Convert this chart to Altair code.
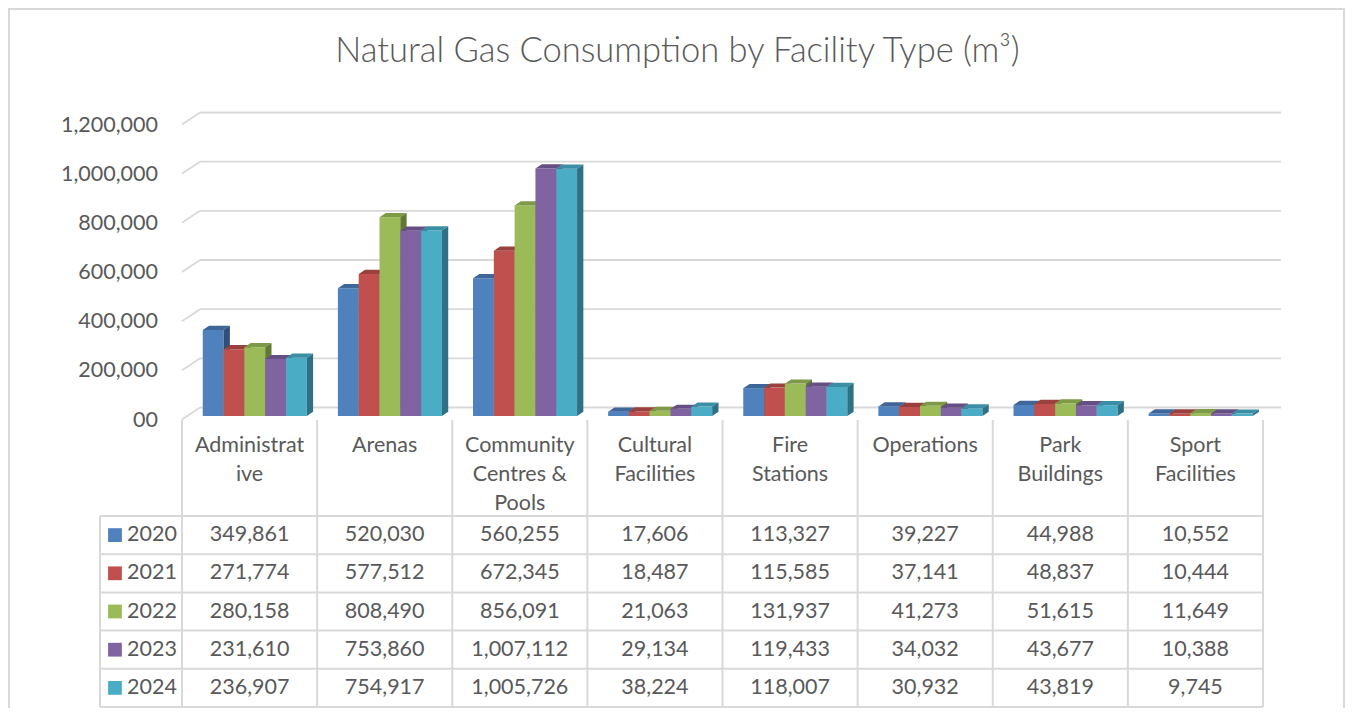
import altair as alt
import pandas as pd

# ---------------- data ----------------
categories = ["Administrative", "Arenas", "Community Centres & Pools", "Cultural Facilities",
              "Fire Stations", "Operations", "Park Buildings", "Sport Facilities"]
category_labels = ["Administrat\nive", "Arenas", "Community\nCentres &\nPools", "Cultural\nFacilities",
                   "Fire\nStations", "Operations", "Park\nBuildings", "Sport\nFacilities"]
years = ["2020", "2021", "2022", "2023", "2024"]
v2020 = [349861, 520030, 560255, 17606, 113327, 39227, 44988, 10552]
v2021 = [271774, 577512, 672345, 18487, 115585, 37141, 48837, 10444]
v2022 = [280158, 808490, 856091, 21063, 131937, 41273, 51615, 11649]
v2023 = [231610, 753860, 1007112, 29134, 119433, 34032, 43677, 10388]
v2024 = [236907, 754917, 1005726, 38224, 118007, 30932, 43819, 9745]
series_values = [v2020, v2021, v2022, v2023, v2024]
tick_values = [0, 200000, 400000, 600000, 800000, 1000000, 1200000]
tick_labels = ["00", "200,000", "400,000", "600,000", "800,000", "1,000,000", "1,200,000"]
title_text = "Natural Gas Consumption by Facility Type (m\u00b3)"

# ---------------- style / layout ----------------
front_colors = ["#4F81BD", "#C0504D", "#9BBB59", "#8064A2", "#4BACC6"]
top_colors = ["#3E6698", "#9A403D", "#7D9A46", "#664F84", "#3A8FA6"]
side_colors = ["#2F4F78", "#7E3331", "#627934", "#513F6A", "#2E7185"]
TEXT = "#595959"
GRID = "#D9D9D9"
FONT = "Lato"
FS = 21.5

W, H = 1337, 700
X_SCALE = alt.Scale(domain=[0, 8], range=[174, 1255], nice=False, zero=False)
Y_VAL = alt.Scale(domain=[0, 1200000], range=[411.5, 116.5], nice=False, zero=False)
Y_TAB = alt.Scale(domain=[0, 5], range=[508, 699], nice=False, zero=False)

DX = 0.1332      # floor depth in column units
DY = 48814       # floor depth in value units
F0, FD = 0.29, 0.35   # bar front depth fraction, bar depth fraction
GAP, BW = 0.115, 0.154
LEG_LEFT = -0.607

# ---------------- tables built from the arrays ----------------
bars, tops, sides = [], [], []
bx, by = F0 * DX, F0 * DY
ddx, ddy = FD * DX, FD * DY
for j, yr in enumerate(years):
    for i, cat in enumerate(categories):
        v = series_values[j][i]
        xl = i + GAP + BW * j + bx
        xr = xl + BW
        bid = f"{yr}-{i}"
        bars.append(dict(year=yr, id=bid, xl=xl, xr=xr, y0=by, y1=v + by))
        tops.append(dict(year=yr, id=bid, ty=v + by, ta=xl, tb=xr))
        tops.append(dict(year=yr, id=bid, ty=v + by + ddy, ta=xl + ddx, tb=xr + ddx))
        sides.append(dict(year=yr, id=bid, sx=xr, sa=by, sb=v + by))
        sides.append(dict(year=yr, id=bid, sx=xr + ddx, sa=by + ddy, sb=v + by + ddy))
bars_df, tops_df, sides_df = pd.DataFrame(bars), pd.DataFrame(tops), pd.DataFrame(sides)

grid_df = pd.DataFrame({"tick": tick_values, "label": tick_labels})
grid_df["back"] = grid_df["tick"] + DY
grid_df["gx0"] = 0.0
grid_df["gx1"] = DX
grid_df["gx2"] = 8 + DX
grid_df["lx"] = -0.1776

vl = pd.DataFrame({"x": list(range(9)) + [LEG_LEFT],
                   "y0": [-2.513] * 9 + [0], "y1": [5] * 10})
hl = pd.DataFrame({"r": list(range(6)), "x0": [LEG_LEFT] * 6, "x1": [8] * 6})

cells = []
for j, yr in enumerate(years):
    for i, cat in enumerate(categories):
        cells.append(dict(v=series_values[j][i], tx=i + 0.5, ty=j + 0.5))
cells_df = pd.DataFrame(cells)

cat_df = pd.DataFrame({"label": category_labels, "tx": [i + 0.5 for i in range(8)], "ty": [-1.688] * 8})
leg_df = pd.DataFrame({"year": years, "c": front_colors, "sx": [-0.496] * 5, "tx": [-0.407] * 5,
                       "ty": [j + 0.5 for j in range(5)]})


def X(f, **kw):
    return alt.X(f, type="quantitative", scale=X_SCALE, axis=None, **kw)


def YV(f, **kw):
    return alt.Y(f, type="quantitative", scale=Y_VAL, axis=None, **kw)


def YT(f, **kw):
    return alt.Y(f, type="quantitative", scale=Y_TAB, axis=None, **kw)


layers = []

# border (left, top, right visible; bottom clipped)
layers.append(alt.Chart(pd.DataFrame({"a": [0]})).mark_rect(
    fillOpacity=0, stroke=GRID, strokeWidth=2, clip=True).encode(
    x=alt.value(1), x2=alt.value(W - 1), y=alt.value(1), y2=alt.value(H + 30)))

# gridlines: slanted floor part + back-wall part
layers.append(alt.Chart(grid_df).mark_rule(color=GRID, strokeWidth=1.8).encode(
    x=X("gx0"), x2="gx1", y=YV("tick"), y2="back"))
layers.append(alt.Chart(grid_df).mark_rule(color=GRID, strokeWidth=1.8).encode(
    x=X("gx1"), x2="gx2", y=YV("back")))

# y tick labels
layers.append(alt.Chart(grid_df).mark_text(
    align="right", baseline="middle", font=FONT, fontSize=FS, color=TEXT, dy=1).encode(
    x=X("lx"), y=YV("tick"), text="label:N"))

# 3D columns, series by series
for j, yr in enumerate(years):
    flt = alt.datum.year == yr
    layers.append(alt.Chart(bars_df).transform_filter(flt).mark_rect(
        color=front_colors[j], strokeWidth=0).encode(
        x=X("xl"), x2="xr", y=YV("y0"), y2="y1"))
    layers.append(alt.Chart(tops_df).transform_filter(flt).mark_area(
        orient="horizontal", color=top_colors[j]).encode(
        y=YV("ty"), x=X("ta", stack=None), x2="tb", detail="id:N"))
    layers.append(alt.Chart(sides_df).transform_filter(flt).mark_area(
        orient="vertical", color=side_colors[j]).encode(
        x=X("sx"), y=YV("sa", stack=None), y2="sb", detail="id:N"))

# data table grid
layers.append(alt.Chart(vl).mark_rule(color=GRID, strokeWidth=2).encode(
    x=X("x"), y=YT("y0"), y2="y1"))
layers.append(alt.Chart(hl).mark_rule(color=GRID, strokeWidth=2).encode(
    x=X("x0"), x2="x1", y=YT("r")))

# category header labels
layers.append(alt.Chart(cat_df).mark_text(
    align="center", baseline="alphabetic", lineBreak="\n", lineHeight=29,
    font=FONT, fontSize=FS, color=TEXT).encode(
    x=X("tx"), y=YT("ty"), text="label:N"))

# table values
layers.append(alt.Chart(cells_df).mark_text(
    align="center", baseline="middle", font=FONT, fontSize=FS, color=TEXT).encode(
    x=X("tx"), y=YT("ty"), text=alt.Text("v:Q", format=",")))

# legend keys
layers.append(alt.Chart(leg_df).mark_square(size=190, opacity=1, filled=True).encode(
    x=X("sx"), y=YT("ty"), color=alt.Color("c:N", scale=None, legend=None)))
layers.append(alt.Chart(leg_df).mark_text(
    align="left", baseline="middle", font=FONT, fontSize=FS, color=TEXT).encode(
    x=X("tx"), y=YT("ty"), text="year:N"))

# title
layers.append(alt.Chart(pd.DataFrame({"t": [title_text]})).mark_text(
    align="center", baseline="alphabetic", font=FONT, fontSize=34.5, fontWeight=300,
    color=TEXT).encode(
    x=alt.value(W / 2 + 1), y=alt.value(54), text="t:N"))

chart = alt.layer(*layers).resolve_scale(y="independent").properties(
    width=W, height=H, padding=0
).configure_view(stroke=None)

chart.save("out.html", embed_options={"renderer": "svg", "actions": False})
